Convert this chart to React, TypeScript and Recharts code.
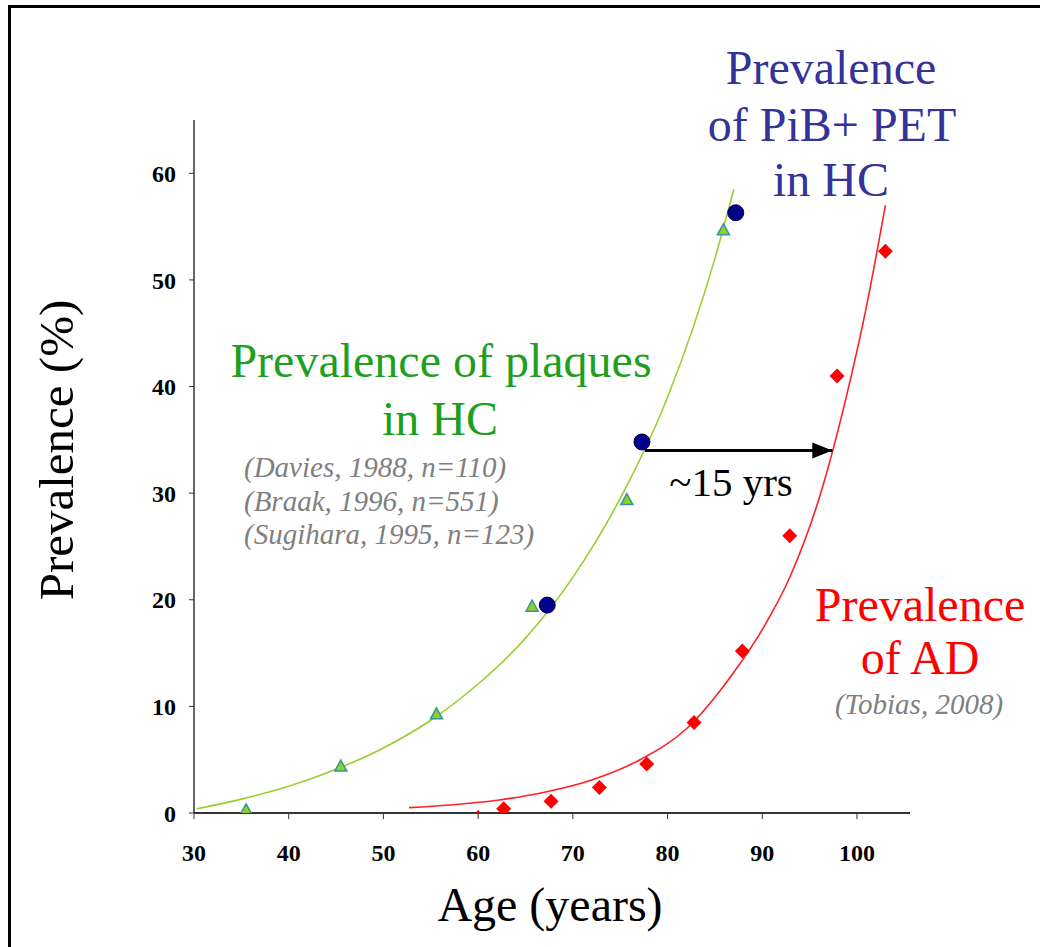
import React from 'react';
import { ComposedChart, XAxis, YAxis, Line, Scatter } from 'recharts';

const serif = "'Liberation Serif', 'Times New Roman', serif";

// axis ticks
const xTicks = [30, 40, 50, 60, 70, 80, 90, 100];
const yTicks = [0, 10, 20, 30, 40, 50, 60];

// prevalence of plaques in HC (triangles)
const plaqueAges = [35.5, 45.5, 55.6, 65.7, 75.7, 85.9];
const plaqueValues = [0.3, 4.4, 9.3, 19.4, 29.4, 54.7];

// prevalence of PiB+ PET in HC (circles)
const pibAges = [67.3, 77.3, 87.2];
const pibValues = [19.5, 34.8, 56.3];

// prevalence of AD (diamonds)
const adAges = [62.7, 67.7, 72.8, 77.8, 82.8, 87.9, 92.9, 97.9, 103.0];
const adValues = [0.4, 1.1, 2.4, 4.6, 8.5, 15.2, 26.0, 41.0, 52.7];
const adStrayAges = [60];
const adStrayValues = [0.1];

// fitted curves
const plaqueFitAges = [30.3, 35, 40, 45, 50, 55, 60, 65, 70, 75, 80, 85, 87];
const plaqueFitValues = [0.4, 1.3, 2.5, 4.1, 6.1, 8.7, 12.1, 16.4, 22.1, 29.5, 39.0, 52.0, 58.5];
const adFitAges = [52.7, 57, 62, 67, 72, 77, 82, 87, 90, 93, 96, 99, 101, 103];
const adFitValues = [0.5, 0.75, 1.2, 1.95, 3.1, 4.95, 7.9, 13.2, 17.2, 22.3, 29.5, 39.5, 47.5, 57.0];

// ~15 yrs arrow
const arrowAges = [77.6, 97.4];
const arrowLevel = 34.0;

const toPoints = (xs: number[], ys: number[]) => xs.map((x, i) => ({ x, y: ys[i] }));

const Triangle = (props: any) => {
  const { cx, cy } = props;
  return (
    <polygon
      points={`${cx},${cy - 6} ${cx + 6},${cy + 5} ${cx - 6},${cy + 5}`}
      fill="#99cc22"
      stroke="#2e9a9a"
      strokeWidth={1.5}
    />
  );
};

const Circle = (props: any) => {
  const { cx, cy } = props;
  return <circle cx={cx} cy={cy} r={8} fill="#000088" stroke="#000055" strokeWidth={1} />;
};

const Diamond = (props: any) => {
  const { cx, cy } = props;
  const r = 7.5;
  return <polygon points={`${cx},${cy - r} ${cx + r},${cy} ${cx},${cy + r} ${cx - r},${cy}`} fill="#ff0000" />;
};

const TinyDiamond = (props: any) => {
  const { cx, cy } = props;
  const r = 2;
  return <polygon points={`${cx},${cy - r} ${cx + r},${cy} ${cx},${cy + r} ${cx - r},${cy}`} fill="#ff0000" />;
};

const ArrowHead = (props: any) => {
  const { cx, cy, index } = props;
  if (index !== 1) return <g key={`ah-${index}`} />;
  return (
    <polygon
      key={`ah-${index}`}
      points={`${cx},${cy} ${cx - 20},${cy - 8} ${cx - 20},${cy + 8}`}
      fill="#000"
    />
  );
};

const XTick = (props: any) => {
  const { x, y, payload } = props;
  return (
    <text x={x} y={y} dy="0.71em" textAnchor="middle" fill="#000" fontSize={24} fontWeight="bold" fontFamily={serif}>
      {payload.value}
    </text>
  );
};

const YTick = (props: any) => {
  const { x, y, payload } = props;
  return (
    <text x={x} y={y} dy="0.36em" textAnchor="end" fill="#000" fontSize={24} fontWeight="bold" fontFamily={serif}>
      {payload.value}
    </text>
  );
};

const App: React.FC = () => {
  return (
    <div style={{ position: 'absolute', left: 0, top: 0, width: 1040, height: 947, background: '#fff', overflow: 'hidden' }}>
      <div style={{ position: 'absolute', left: 8, top: 5, width: 1032, height: 3, background: '#000' }} />
      <div style={{ position: 'absolute', left: 8, top: 5, width: 3, height: 942, background: '#000' }} />
      <ComposedChart width={1040} height={947} margin={{ top: 120, right: 130, bottom: 74, left: 134 }}>
        <XAxis
          dataKey="x"
          type="number"
          domain={[30, 105.6]}
          ticks={xTicks}
          allowDataOverflow
          height={60}
          tick={XTick}
          tickSize={6}
          tickMargin={25}
          axisLine={{ stroke: '#333', strokeWidth: 2 }}
          tickLine={{ stroke: '#333' }}
        />
        <YAxis
          dataKey="y"
          type="number"
          domain={[0, 65]}
          ticks={yTicks}
          allowDataOverflow
          width={60}
          tick={YTick}
          tickSize={5}
          tickMargin={13}
          axisLine={{ stroke: '#333', strokeWidth: 1.5 }}
          tickLine={{ stroke: '#333' }}
        />
        <Line
          data={toPoints(plaqueFitAges, plaqueFitValues)}
          dataKey="y"
          type="monotone"
          stroke="#9acd32"
          strokeWidth={1.6}
          dot={false}
          isAnimationActive={false}
        />
        <Line
          data={toPoints(adFitAges, adFitValues)}
          dataKey="y"
          type="monotone"
          stroke="#ff2020"
          strokeWidth={1.6}
          dot={false}
          isAnimationActive={false}
        />
        <Scatter data={toPoints(plaqueAges, plaqueValues)} shape={Triangle} isAnimationActive={false} />
        <Scatter data={toPoints(adAges, adValues)} shape={Diamond} isAnimationActive={false} />
        <Scatter data={toPoints(adStrayAges, adStrayValues)} shape={TinyDiamond} isAnimationActive={false} />
        <Scatter data={toPoints(pibAges, pibValues)} shape={Circle} isAnimationActive={false} />
        <Line
          data={arrowAges.map((x) => ({ x, y: arrowLevel }))}
          dataKey="y"
          type="linear"
          stroke="#000"
          strokeWidth={3}
          dot={ArrowHead}
          activeDot={false}
          isAnimationActive={false}
        />
      </ComposedChart>
      <svg
        width={1040}
        height={947}
        style={{ position: 'absolute', left: 0, top: 0, pointerEvents: 'none' }}
        fontFamily={serif}
      >
        <g fill="#333399" fontSize={48} textAnchor="middle">
          <text x={831} y={84}>Prevalence</text>
          <text x={832} y={141}>of PiB+ PET</text>
          <text x={831} y={196}>in HC</text>
        </g>
        <g fill="#1f9f1f" fontSize={48} textAnchor="middle">
          <text x={441} y={377}>Prevalence of plaques</text>
          <text x={440} y={435}>in HC</text>
        </g>
        <g fill="#808080" fontSize={29} fontStyle="italic">
          <text x={244} y={477}>(Davies, 1988, n=110)</text>
          <text x={244} y={511}>(Braak, 1996, n=551)</text>
          <text x={244} y={544}>(Sugihara, 1995, n=123)</text>
        </g>
        <g fill="#ff0000" fontSize={48} textAnchor="middle">
          <text x={920} y={621}>Prevalence</text>
          <text x={920} y={674}>of AD</text>
        </g>
        <text x={919} y={714} fill="#808080" fontSize={29} fontStyle="italic" textAnchor="middle">
          (Tobias, 2008)
        </text>
        <text x={731} y={496} fill="#000" fontSize={41} textAnchor="middle">~15 yrs</text>
        <text x={550} y={921} fill="#000" fontSize={48} textAnchor="middle">Age (years)</text>
        <text
          x={0}
          y={0}
          transform="translate(73,450) rotate(-90)"
          fill="#000"
          fontSize={49}
          textAnchor="middle"
        >
          Prevalence (%)
        </text>
      </svg>
    </div>
  );
};

export default App;
